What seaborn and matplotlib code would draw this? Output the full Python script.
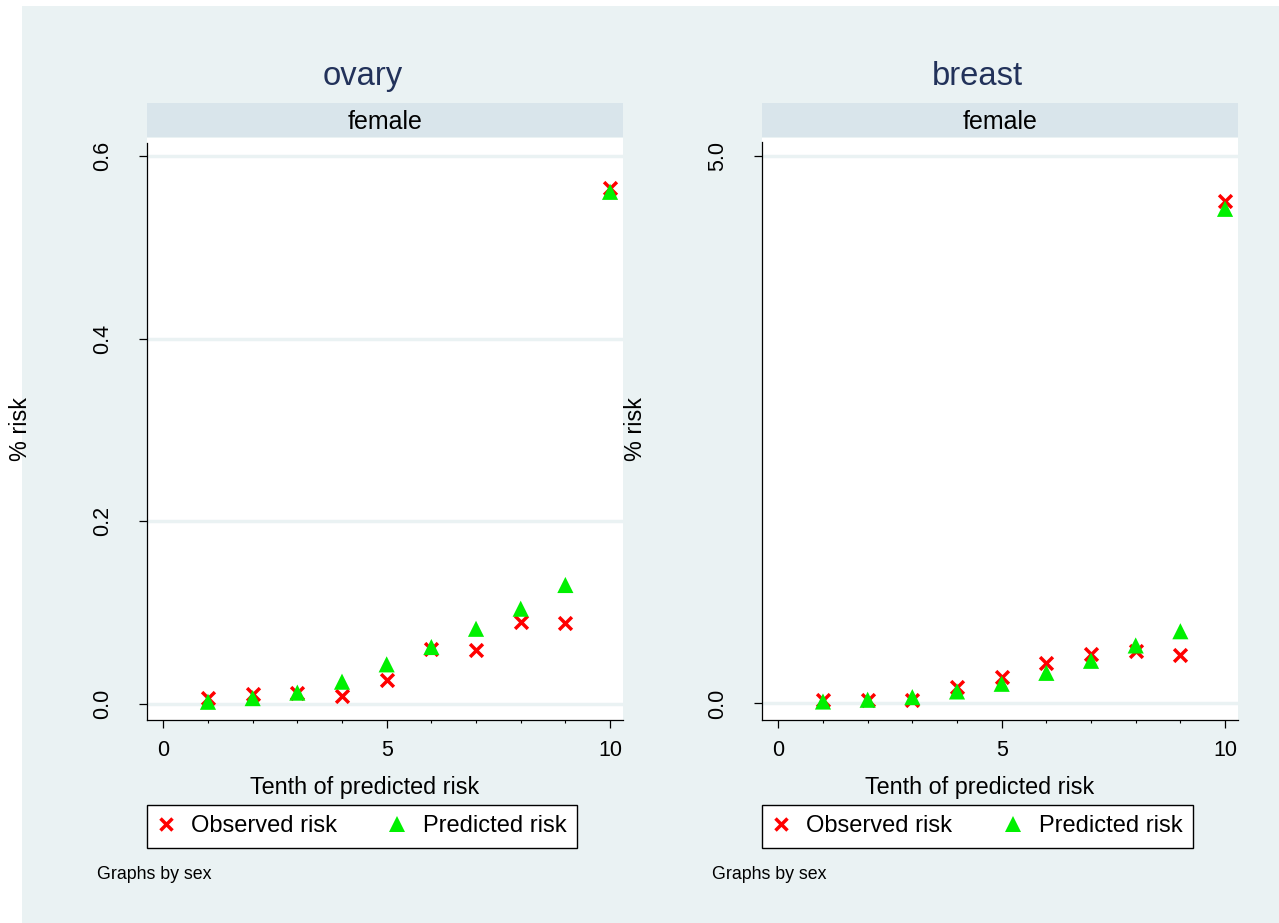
import matplotlib
matplotlib.use("Agg")
import matplotlib.pyplot as plt
import seaborn as sns
import pandas as pd
from matplotlib.patches import Rectangle
from matplotlib.lines import Line2D

# ---------------- data ----------------
tenths = [1, 2, 3, 4, 5, 6, 7, 8, 9, 10]
ovary_observed = [0.006, 0.011, 0.012, 0.008, 0.026, 0.060, 0.059, 0.089, 0.088, 0.565]
ovary_predicted = [0.002, 0.006, 0.012, 0.024, 0.043, 0.062, 0.082, 0.104, 0.130, 0.561]
breast_observed = [0.034, 0.034, 0.034, 0.155, 0.24, 0.372, 0.454, 0.484, 0.439, 4.59]
breast_predicted = [0.018, 0.034, 0.058, 0.11, 0.18, 0.28, 0.39, 0.53, 0.66, 4.52]

panel_titles = ["ovary", "breast"]
strip_label = "female"
series_names = ["Observed risk", "Predicted risk"]
x_ticks = [0, 5, 10]
ovary_yticks = [0.0, 0.2, 0.4, 0.6]
ovary_yticklabels = ["0.0", "0.2", "0.4", "0.6"]
breast_yticks = [0.0, 5.0]
breast_yticklabels = ["0.0", "5.0"]

frames = []
for cancer, obs, pred in [("ovary", ovary_observed, ovary_predicted),
                          ("breast", breast_observed, breast_predicted)]:
    frames.append(pd.DataFrame({"cancer": cancer, "tenth": tenths, "risk": obs,
                                "series": series_names[0]}))
    frames.append(pd.DataFrame({"cancer": cancer, "tenth": tenths, "risk": pred,
                                "series": series_names[1]}))
df = pd.concat(frames, ignore_index=True)

# ---------------- style ----------------
sns.set_theme(style="white")
plt.rcParams["font.family"] = ["Liberation Sans", "DejaVu Sans"]
plt.rcParams["text.color"] = "black"
plt.rcParams["axes.labelcolor"] = "black"
plt.rcParams["xtick.color"] = "black"
plt.rcParams["ytick.color"] = "black"

W, H = 1279, 923
BG = "#EAF2F3"
STRIP = "#D9E5EB"
RED = "#FF0000"
GREEN = "#00F000"
TITLE_C = "#22325A"

fig = plt.figure(figsize=(W / 100, H / 100), dpi=100, facecolor="white")
fig.patches.append(Rectangle((22 / W, 0), 1 - 22 / W, 1 - 6 / H,
                             transform=fig.transFigure, facecolor=BG,
                             edgecolor="none", zorder=-10))


def px_rect(x0, x1, y0, y1):
    return [x0 / W, 1 - y1 / H, (x1 - x0) / W, (y1 - y0) / H]


panels = [
    dict(name="ovary", x0=147, x1=623, ylim=(-0.018, 0.620), spine_top=0.615,
         yticks=ovary_yticks, ylabels=ovary_yticklabels, title_x=363),
    dict(name="breast", x0=762, x1=1238, ylim=(-0.151, 5.167), spine_top=5.128,
         yticks=breast_yticks, ylabels=breast_yticklabels, title_x=977),
]

for p in panels:
    ax = fig.add_axes(px_rect(p["x0"], p["x1"], 138, 720))
    ax.set_facecolor("white")
    sub = df[df["cancer"] == p["name"]]
    sns.scatterplot(data=sub[sub["series"] == series_names[0]], x="tenth", y="risk",
                    marker="x", color=RED, s=85, linewidth=2.5, ax=ax, zorder=3,
                    legend=False)
    sns.scatterplot(data=sub[sub["series"] == series_names[1]], x="tenth", y="risk",
                    marker="^", color=GREEN, edgecolor="none", s=135, ax=ax, zorder=4,
                    legend=False)
    ax.set_xlim(-0.365, 10.29)
    ax.set_ylim(*p["ylim"])
    ax.set_yticks(p["yticks"])
    ax.set_yticklabels(p["ylabels"], rotation=90, va="center")
    ax.set_xticks(x_ticks)
    ax.set_xticklabels([str(t) for t in x_ticks])
    ax.set_xticks([1, 2, 3, 4, 6, 7, 8, 9], minor=True)
    ax.grid(axis="y", which="major", color=BG, linewidth=2.5)
    ax.set_axisbelow(True)
    for s in ["top", "right"]:
        ax.spines[s].set_visible(False)
    for s in ["left", "bottom"]:
        ax.spines[s].set_color("black")
        ax.spines[s].set_linewidth(0.9)
    ax.spines["left"].set_bounds(p["ylim"][0], p["spine_top"])
    ax.tick_params(axis="y", which="major", length=5.5, width=0.9, color="black",
                   labelcolor="black", pad=19, labelsize=15.5, left=True)
    ax.tick_params(axis="x", which="major", length=5.5, width=0.9, color="black",
                   labelcolor="black", pad=9, labelsize=15.5, bottom=True)
    ax.tick_params(axis="x", which="minor", length=2.5, width=0.8, color="black",
                   bottom=True)
    ax.set_xlabel("Tenth of predicted risk", fontsize=16.8, color="black")
    ax.xaxis.set_label_coords(0.458, -0.1271)
    ax.xaxis.label.set_va("baseline")
    ax.set_ylabel("% risk", fontsize=16.8, color="black")
    ax.yaxis.set_label_coords(-0.266, 0.5)
    ax.yaxis.label.set_va("center")

    # strip
    sax = fig.add_axes(px_rect(p["x0"], p["x1"], 103, 137))
    sax.set_facecolor(STRIP)
    sax.set_xticks([])
    sax.set_yticks([])
    for s in sax.spines.values():
        s.set_visible(False)
    sax.text(0.5, (137 - 129.3) / 34, strip_label, ha="center", va="baseline",
             fontsize=18, color="black", transform=sax.transAxes)

    # panel title
    fig.text(p["title_x"] / W, 1 - 85 / H, p["name"], ha="center", va="baseline",
             fontsize=23.6, color=TITLE_C)

    # legend
    handles = [
        Line2D([], [], linestyle="none", marker="x", color=RED, markersize=9,
               markeredgewidth=2.5),
        Line2D([], [], linestyle="none", marker="^", color=GREEN, markersize=11.5,
               markeredgewidth=0),
    ]
    lw_px = 430 if p["name"] == "ovary" else 431
    leg = ax.legend(handles, series_names, loc="center", ncol=2, mode="expand",
                    bbox_to_anchor=(p["x0"] / W, 1 - 848 / H, lw_px / W, 43 / H),
                    bbox_transform=fig.transFigure, fontsize=17, frameon=True,
                    fancybox=False, framealpha=1, edgecolor="black",
                    facecolor="white", borderpad=0.46, handlelength=0.7,
                    handletextpad=0.72, columnspacing=2.0, borderaxespad=0)
    leg.get_frame().set_linewidth(1.0)
    for t in leg.get_texts():
        t.set_color("black")

    # note
    fig.text((p["x0"] - 50) / W, 1 - 879 / H, "Graphs by sex", ha="left",
             va="baseline", fontsize=12.8, color="black")

fig.savefig("out.png", dpi=100, facecolor="white")
